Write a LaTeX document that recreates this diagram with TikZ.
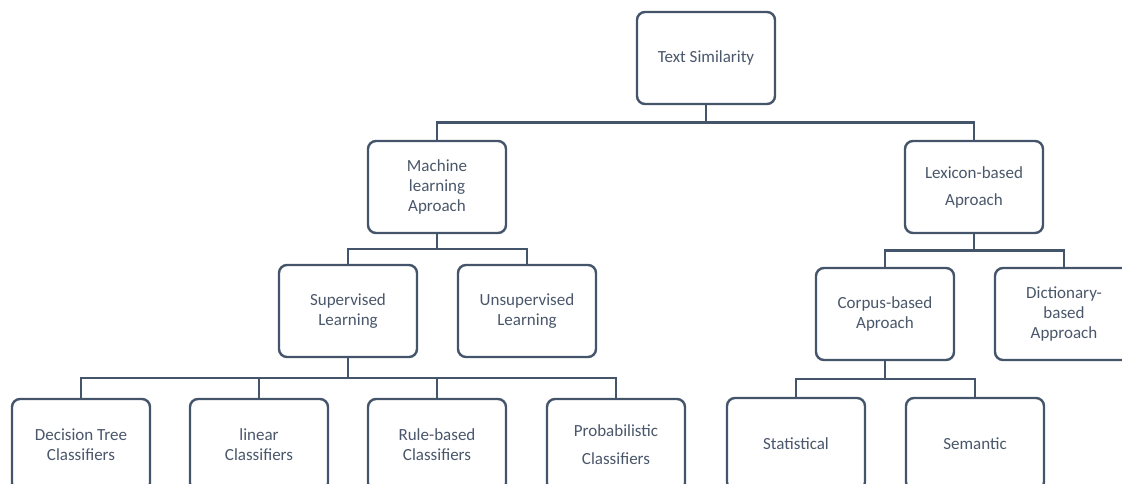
\documentclass[tikz,border=0pt]{standalone}
\usepackage{fontspec}
\setmainfont{Carlito}
\usepackage{xcolor}
\definecolor{slate}{HTML}{44546A}
\definecolor{slatetext}{HTML}{4A576B}
\usetikzlibrary{positioning, calc}

\tikzset{
    box/.style={draw=slate, line width=2.4pt, rounded corners=8pt, fill=white,
        outer sep=0pt, minimum width=138pt, minimum height=92pt, align=center,
        text=slatetext, font=\fontsize{17}{20}\selectfont},
    link/.style={draw=slate, line width=2.4pt}
}

\begin{document}
\begin{tikzpicture}
    \useasboundingbox (0,0) rectangle (1122pt,-484pt);

    % Root
    \node[box] (ts) at (706pt,-58pt) {Text Similarity};

    % Second level
    \node[box, below=37pt of ts, xshift=-269pt] (ml) {Machine\\learning\\Aproach};
    \node[box, below=37pt of ts, xshift=268pt] (lex) {Lexicon-based\\[7pt]Aproach};

    % Machine learning branch
    \node[box, below=32pt of ml, xshift=-89pt] (sup) {Supervised\\Learning};
    \node[box, right=41pt of sup] (unsup) {Unsupervised\\Learning};

    % Lexicon branch
    \node[box, below=35pt of lex, xshift=-89pt] (corp) {Corpus-based\\Aproach};
    \node[box, right=41pt of corp] (dict) {Dictionary-\\based\\Approach};

    % Classifiers
    \node[box, below=42pt of sup, xshift=-267pt] (dt) {Decision Tree\\Classifiers};
    \node[box, right=40pt of dt] (lin) {linear\\Classifiers};
    \node[box, right=40pt of lin] (rule) {Rule-based\\Classifiers};
    \node[box, right=41pt of rule] (prob) {Probabilistic\\[8pt]Classifiers};

    % Corpus children
    \node[box, below=38pt of corp, xshift=-89pt] (stat) {Statistical};
    \node[box, right=41pt of stat] (sem) {Semantic};

    % Connectors
    \foreach \p/\c in {ts/ml, ts/lex, ml/sup, ml/unsup, lex/corp, lex/dict,
                       sup/dt, sup/lin, sup/rule, sup/prob, corp/stat, corp/sem}
        \draw[link] (\p.south) -- ($(\p.south)!.5!(\p.south |- \c.north)$) -| (\c.north);
\end{tikzpicture}
\end{document}
